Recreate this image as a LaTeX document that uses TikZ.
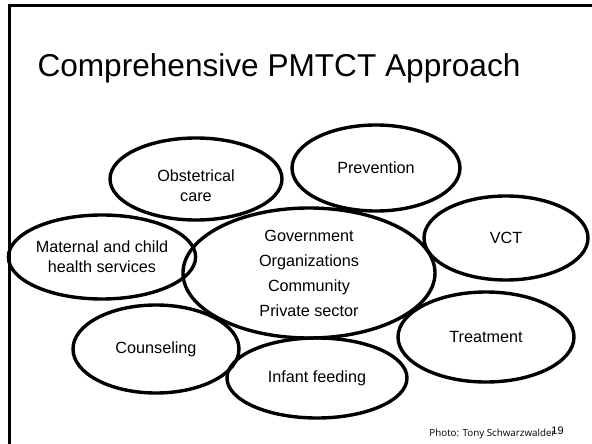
\documentclass[tikz,border=0pt]{standalone}
\usepackage{fontspec}
\setmainfont{Liberation Sans}
\newfontfamily\photofont{Open Sans}
\usetikzlibrary{shapes.geometric}

\begin{document}
\begin{tikzpicture}[x = 1pt, y = -1pt, bubble/.style 2 args = {ellipse, draw, line width = 3.4pt, inner sep = 0pt, align = center, minimum width = #1pt, minimum height = #2pt, font = \fontsize{16.2}{20}\selectfont}]
	\useasboundingbox (0,0) rectangle (592,444);
	\draw[line width = 3pt] (9,444) -- (9,5.5) -- (592,5.5);

	\node[anchor = base, font = \fontsize{31.6}{38}\selectfont](title) at (279,76.5){Comprehensive PMTCT Approach};

	\node[bubble = {252}{130}](hub) at (309,273){Government\\[5pt]Organizations\\[5pt]Community\\[5pt]Private sector};
	\node[bubble = {172}{82}, text height = 46pt](obst) at (196,179){Obstetrical\\care};
	\node[bubble = {168}{86}](prev) at (376,168){Prevention};
	\node[bubble = {164}{84}](mch) at (102,257){Maternal and child\\health services};
	\node[bubble = {164}{84}](vct) at (506,238){VCT};
	\node[bubble = {166}{88}](couns) at (156,349){Counseling};
	\node[bubble = {180}{80}](feed) at (317,378){Infant feeding};
	\node[bubble = {176}{90}](treat) at (486,337){Treatment};

	\node[anchor = base, font = \photofont\fontsize{9.8}{12}\selectfont](photo) at (492.5,436){Photo: Tony Schwarzwalder};
	\node[anchor = base, font = \fontsize{11}{13}\selectfont](page) at (557.5,434){19};
\end{tikzpicture}
\end{document}
